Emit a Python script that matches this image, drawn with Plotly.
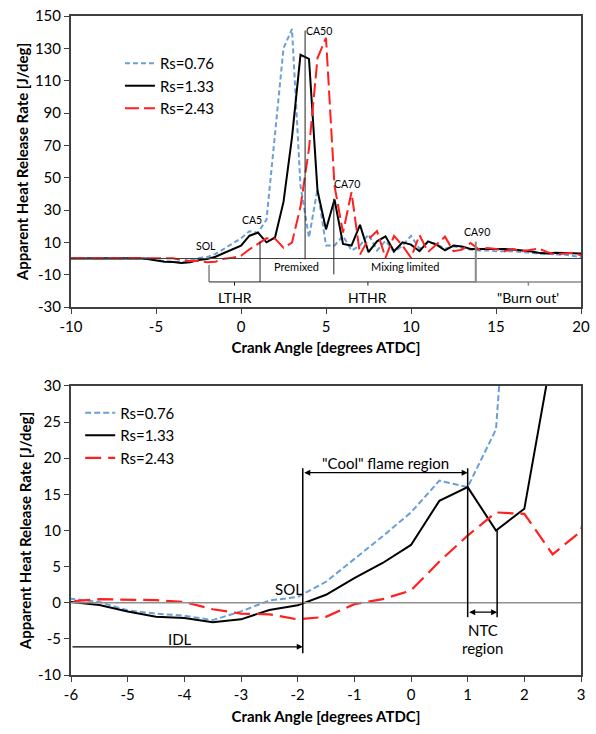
import plotly.graph_objects as go

# Crank angle grid [deg ATDC]
crank_angle = [
    -10, -9.5, -9, -8.5, -8, -7.5, -7, -6.5, -6, -5.5, -5, -4.5, -4, -3.5, -3, -2.5,
    -2, -1.5, -1, -0.5, 0, 0.5, 1, 1.5, 2, 2.5, 3, 3.5, 4, 4.5, 5, 5.5,
    6, 6.5, 7, 7.5, 8, 8.5, 9, 9.5, 10, 10.5, 11, 11.5, 12, 12.5, 13, 13.5,
    14, 14.5, 15, 15.5, 16, 16.5, 17, 17.5, 18, 18.5, 19, 19.5, 20,
]

# Apparent heat release rate [J/deg] for each swirl ratio
ahrr_rs076 = [
    0.3, 0.3, 0.3, 0.3, 0.4, 0.4, 0.5, 0.5, 0.55, 0.1, -1.05, -1.5, -1.8, -2.4, -1.2, 0.3,
    0.8, 2.9, 6.0, 9.2, 12.5, 16.9, 16.0, 24.0, 78, 130, 142, 45, 13, 43, 8, 8,
    14, 5, 8, 15, 5, 11, 4, 8, 14, 6, 10, 9, 6, 7.5, 6.5, 5.5,
    5, 5, 4.5, 4.5, 4.5, 4, 3.5, 3, 3, 2.5, 2.5, 1.5, 0.8,
]
ahrr_rs133 = [
    0, 0, 0, 0, 0.1, 0.2, 0.2, 0.2, 0.1, -0.3, -1.2, -1.95, -2.1, -2.7, -2.3, -1.0,
    -0.36, 1.1, 3.4, 5.5, 8.0, 14.1, 16.0, 10.0, 13.0, 35, 75, 126, 123.5, 42, 18, 36.5,
    9, 8, 20.8, 3.9, 10.6, 13.7, 4.5, 10, 8.6, 4.5, 10.6, 8.6, 5, 8, 7.5, 5.9,
    5.9, 6.3, 5.9, 5.9, 5.5, 5, 4.5, 3.5, 3.1, 3.5, 3.5, 3.5, 3.1,
]
ahrr_rs243 = [
    0.1, 0.1, 0.2, 0.2, 0.2, 0.3, 0.3, 0.3, 0.2, 0.5, 0.45, 0.35, 0.1, -0.9, -1.5, -1.6,
    -2.3, -1.95, -0.2, 0.5, 1.7, 5.7, 9.3, 12.5, 12.3, 6.7, 9.9, 32, 68, 124, 136.5, 45,
    16, 41, 2.5, 12, 17, 0.5, 14, 8, 0.5, 14.5, 4, 9, 13.5, 4.5, 5.5, 9.6,
    5.5, 6.5, 5.9, 4.5, 5.9, 4.5, 5.5, 6.1, 4.1, 2.4, 3.1, 3.5, 2.0,
]

series_names = ["Rs=0.76", "Rs=1.33", "Rs=2.43"]
series_values = [ahrr_rs076, ahrr_rs133, ahrr_rs243]

# Tick values / labels (plain hyphen minus, as in the original figure)
top_x_ticks = [-10, -5, 0, 5, 10, 15, 20]
top_y_ticks = [-30, -10, 10, 30, 50, 70, 90, 110, 130, 150]
bot_x_ticks = [-6, -5, -4, -3, -2, -1, 0, 1, 2, 3]
bot_y_ticks = [-10, -5, 0, 5, 10, 15, 20, 25, 30]

# Combustion phasing markers [deg ATDC]
sol_angle = -1.88
ca5_angle = 1.12
ca50_angle = 3.77
ca70_angle = 5.46
ca90_angle = 13.81
cool_flame_end = 1.0
ntc_end = 1.52

FONT = "Lato, 'Open Sans', sans-serif"
AXIS_COLOR = "#404040"

top_styles = [
    dict(color="#6a9fd8", width=2, dash="5px,3px"),
    dict(color="#000000", width=2, dash="solid"),
    dict(color="#ff1f1f", width=2, dash="14px,5px"),
]
bottom_styles = [
    dict(color="#6a9fd8", width=2, dash="6px,3px"),
    dict(color="#000000", width=2, dash="solid"),
    dict(color="#ff1f1f", width=2.2, dash="16px,7px"),
]

fig = go.Figure()

for i, (name, vals) in enumerate(zip(series_names, series_values)):
    fig.add_trace(go.Scatter(
        x=crank_angle, y=vals, mode="lines", name=name,
        line=top_styles[i], xaxis="x", yaxis="y", legend="legend",
    ))
for i, (name, vals) in enumerate(zip(series_names, series_values)):
    fig.add_trace(go.Scatter(
        x=crank_angle, y=vals, mode="lines", name=name,
        line=bottom_styles[i], xaxis="x2", yaxis="y2", legend="legend2",
    ))


def ticks(vals):
    return dict(tickmode="array", tickvals=vals, ticktext=[str(v) for v in vals])


axis_common = dict(
    showline=True, mirror=True, linecolor=AXIS_COLOR, linewidth=2,
    ticks="outside", ticklen=5, tickcolor=AXIS_COLOR, tickwidth=1,
    showgrid=False, zeroline=False,
    tickfont=dict(family=FONT, size=15, color="#000"),
)
title_font = dict(family=FONT, size=15, color="#000")

fig.update_layout(
    width=596, height=734,
    margin=dict(l=71, r=6, t=7, b=59),
    paper_bgcolor="white", plot_bgcolor="white",
    font=dict(family=FONT, color="#000"),
    xaxis=dict(axis_common, **ticks(top_x_ticks), domain=[0, 1], anchor="y", range=[-10, 20],
               title=dict(text="<b>Crank Angle [degrees ATDC]</b>", font=title_font, standoff=8)),
    yaxis=dict(axis_common, **ticks(top_y_ticks), domain=[0.5584, 1], anchor="x", range=[-30, 150],
               title=dict(text="<b>Apparent Heat Release Rate [J/deg]</b>", font=title_font, standoff=3)),
    xaxis2=dict(axis_common, **ticks(bot_x_ticks), domain=[0, 1], anchor="y2", range=[-6, 3],
                title=dict(text="<b>Crank Angle [degrees ATDC]</b>", font=title_font, standoff=9)),
    yaxis2=dict(axis_common, **ticks(bot_y_ticks), domain=[0, 0.4386], anchor="x2", range=[-10, 30],
                title=dict(text="<b>Apparent Heat Release Rate [J/deg]</b>", font=title_font, standoff=3)),
    legend=dict(x=0.096, y=0.953, xanchor="left", yanchor="top",
                bgcolor="rgba(0,0,0,0)", font=dict(family=FONT, size=15)),
    legend2=dict(x=0.018, y=0.4225, xanchor="left", yanchor="top",
                 bgcolor="rgba(0,0,0,0)", font=dict(family=FONT, size=15)),
)

shapes = []
annotations = []


def vline(x, y0, y1, xr="x", yr="y", color="#000", width=1):
    shapes.append(dict(type="line", xref=xr, yref=yr, x0=x, x1=x, y0=y0, y1=y1,
                       line=dict(color=color, width=width)))


def hline(x0, x1, y, xr="x", yr="y", color="#000", width=1):
    shapes.append(dict(type="line", xref=xr, yref=yr, x0=x0, x1=x1, y0=y, y1=y,
                       line=dict(color=color, width=width)))


def label(x, y, text, size, xr="x", yr="y", color="#000", xanchor="center"):
    annotations.append(dict(x=x, y=y, xref=xr, yref=yr, text=text, showarrow=False,
                            xanchor=xanchor, yanchor="middle",
                            font=dict(family=FONT, size=size, color=color)))


# ---- Top panel: zero line, phasing markers and combustion-phase brackets ----
hline(-10, 20, 0, color=AXIS_COLOR, width=1)
bracket_y = -14.5
tick_y = -16.8
hline(sol_angle, ca90_angle, bracket_y, color="#222", width=1)
hline(ca90_angle, 20, bracket_y, color="#888", width=1.5)
vline(sol_angle, -4.0, bracket_y, color="#444")
vline(ca5_angle, 10.5, bracket_y, color="#222")
vline(ca50_angle, 141, -0.5, color="#222")
vline(ca70_angle, 37, -9.8, color="#222")
vline(ca90_angle, 10.5, bracket_y - 0.5, color="#888", width=2)
vline((sol_angle + ca5_angle) / 2, bracket_y, tick_y, color="#222")
vline((ca5_angle + ca90_angle) / 2, bracket_y, tick_y, color="#222")
vline((ca90_angle + 20) / 2, bracket_y, tick_y, color="#888", width=1.5)

label(-2.05, 7.5, "SOL", 10.5)
label(0.63, 24, "CA5", 10.5)
label(4.57, 141, "CA50", 10.5)
label(6.26, 46, "CA70", 10.5)
label(13.86, 16.5, "CA90", 10.5)
label((ca5_angle + ca70_angle) / 2, -4.9, "Premixed", 11)
label((ca70_angle + ca90_angle) / 2, -4.9, "Mixing limited", 11)
label((sol_angle + ca5_angle) / 2, -24.3, "LTHR", 14)
label((ca5_angle + ca90_angle) / 2, -24.3, "HTHR", 14)
label((ca90_angle + 20) / 2, -24.3, "\"Burn out'", 14)

# ---- Bottom panel: ignition delay, cool-flame and NTC regions ----
hline(-6, 3, 0, xr="x2", yr="y2", color="#909090", width=1.5)
vline(sol_angle - 0.03, 18.6, -7.0, xr="x2", yr="y2", width=1.5)
vline(cool_flame_end, 18.6, -2.0, xr="x2", yr="y2", width=1.5)
vline(ntc_end, 10.0, -2.0, xr="x2", yr="y2", width=1.5)


def arrow(x_tail, x_head, y, both=False):
    annotations.append(dict(
        x=x_head, y=y, ax=x_tail, ay=y, xref="x2", yref="y2", axref="x2", ayref="y2",
        text="", showarrow=True, arrowhead=2, arrowsize=1, arrowwidth=1.2,
        arrowcolor="#000", arrowside="end+start" if both else "end",
        startarrowhead=2, startarrowsize=1,
    ))


arrow(-6, sol_angle - 0.03, -6.1)
arrow(sol_angle - 0.03, cool_flame_end, 18.0, both=True)
arrow(cool_flame_end, ntc_end, -1.3, both=True)

label(-4.07, -5.0, "IDL", 15, xr="x2", yr="y2")
label(-2.15, 1.9, "SOL", 15, xr="x2", yr="y2")
label(-0.45, 19.4, "\"Cool\" flame region", 15, xr="x2", yr="y2")
label(1.27, -3.8, "NTC", 15, xr="x2", yr="y2")
label(1.27, -6.3, "region", 15, xr="x2", yr="y2")

fig.update_layout(shapes=shapes, annotations=annotations)

fig.write_html("out.html")
